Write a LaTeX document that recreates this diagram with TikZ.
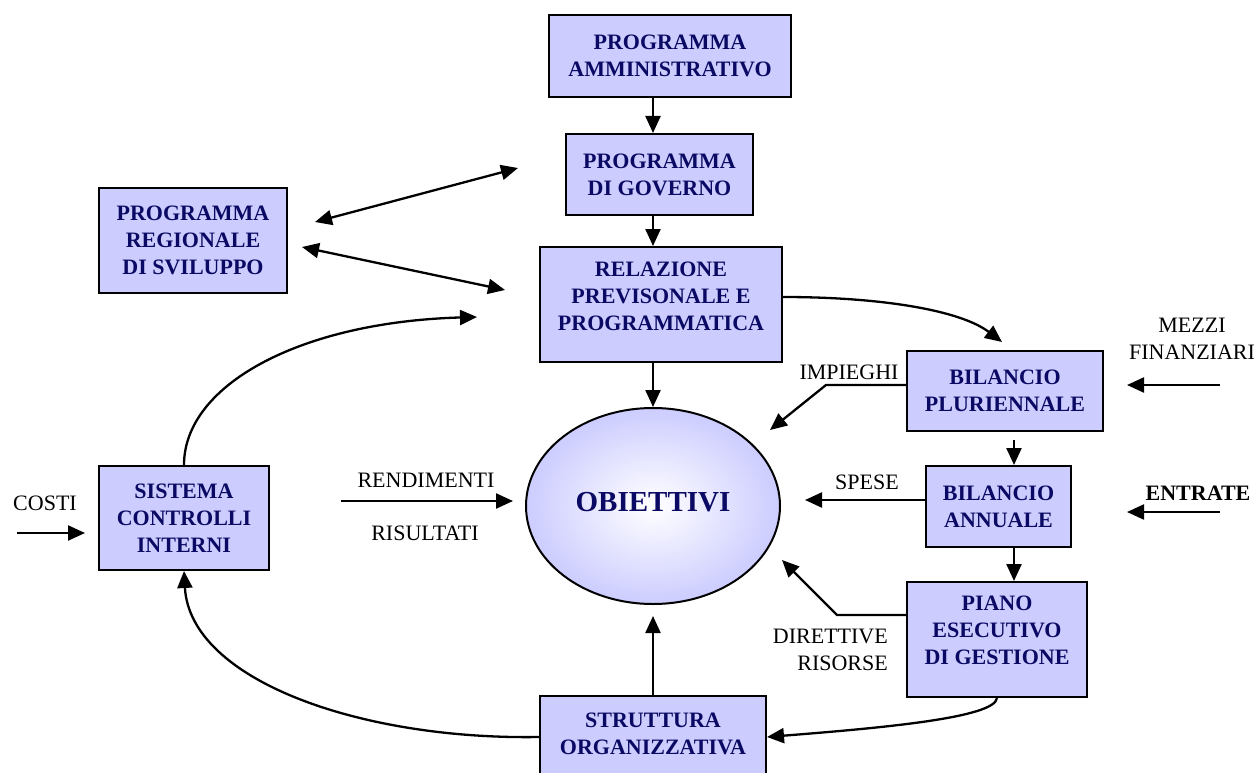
\documentclass[tikz,border=0pt]{standalone}
\usepackage{fontspec}
\setmainfont{Liberation Serif}
\usetikzlibrary{arrows.meta,shapes.geometric}
\definecolor{boxfill}{RGB}{204,204,255}
\definecolor{navytext}{RGB}{10,10,100}
\tikzset{
  box/.style={draw=black, line width=2pt, fill=boxfill, inner sep=0pt, text=navytext,
    font=\fontsize{22}{27}\selectfont\bfseries, align=center},
  boxtext/.style={inner sep=0pt, text=navytext, font=\fontsize{22}{27}\selectfont\bfseries, align=center},
  lab/.style={inner sep=0pt, text=black, font=\fontsize{22}{27}\selectfont, align=center},
  arr/.style={line width=2.3pt, -{Triangle[length=17pt,width=15pt]}},
  darr/.style={line width=2.3pt, {Triangle[length=17pt,width=15pt]}-{Triangle[length=17pt,width=15pt]}},
}
\begin{document}
\begin{tikzpicture}[x=1pt,y=-1pt]
\useasboundingbox (0,0) rectangle (1258,773);
% boxes
\node[box, minimum width=242pt, minimum height=82pt] (amm) at (670,56) {PROGRAMMA\\AMMINISTRATIVO};
\node[box, minimum width=187pt, minimum height=81pt] (gov) at (659.5,174.5) {PROGRAMMA\\DI GOVERNO};
\node[box, minimum width=242pt, minimum height=115pt] (rel) at (661,304.5) {};
\node[boxtext] (reltxt) at (661,296) {RELAZIONE\\PREVISONALE E\\PROGRAMMATICA};
\node[box, minimum width=188pt, minimum height=105pt] (prs) at (193,240.5) {PROGRAMMA\\REGIONALE\\DI SVILUPPO};
\node[box, minimum width=170pt, minimum height=104pt] (sci) at (184,518) {SISTEMA\\CONTROLLI\\INTERNI};
\node[box, minimum width=196pt, minimum height=80pt] (bp) at (1005,391) {BILANCIO\\PLURIENNALE};
\node[box, minimum width=145pt, minimum height=81pt] (ba) at (998.5,506.5) {BILANCIO\\ANNUALE};
\node[box, minimum width=180pt, minimum height=115pt] (pia) at (997,639.5) {};
\node[boxtext] (piatxt) at (997,630) {PIANO\\ESECUTIVO\\DI GESTIONE};
\node[box, minimum width=226pt, minimum height=110pt] (str) at (653,751) {};
\node[boxtext] (strtxt) at (653,734) {STRUTTURA\\ORGANIZZATIVA};
% ellipse
\node[ellipse, draw=black, line width=2pt, minimum width=254pt, minimum height=196pt,
  shading=radial, inner color=white, outer color=boxfill, inner sep=0pt] (obj) at (653,506) {};
\node[boxtext, font=\fontsize{29}{33}\selectfont\bfseries] (objtxt) at (653,502) {OBIETTIVI};
% coordinates
\coordinate (colx) at (1014,0);
\coordinate (d1a) at (315,222);
\coordinate (d1b) at (518,168);
\coordinate (d2a) at (302,247);
\coordinate (d2b) at (505,290);
\coordinate (c1) at (477,317);
\coordinate (c2) at (1002,342);
\coordinate (imp) at (770,430);
\coordinate (spe) at (805,500);
\coordinate (dir) at (782,560);
\coordinate (ren1) at (341,501);
\coordinate (ren2) at (513,501);
\coordinate (mz1) at (1220,385);
\coordinate (mz2) at (1127,385);
\coordinate (en1) at (1220,512);
\coordinate (en2) at (1127,512);
\coordinate (co1) at (17,533);
\coordinate (co2) at (85,533);
% vertical arrows
\draw[arr] (amm.south -| obj.north) -- (gov.north -| obj.north);
\draw[arr] (gov.south -| obj.north) -- (rel.north -| obj.north);
\draw[arr] (rel.south -| obj.north) -- (obj.north);
\draw[arr] (str.north -| obj.north) -- ([yshift=-11pt]obj.south);
\draw[arr] ([yshift=-8pt]bp.south -| colx) -- (ba.north -| colx);
\draw[arr] (ba.south -| colx) -- (pia.north -| colx);
% double arrows
\draw[darr] (d1a) -- (d1b);
\draw[darr] (d2a) -- (d2b);
% curves
\draw[arr] (sci.north) .. controls (184,385) and (300,322) .. (c1);
\draw[arr] ([yshift=7.5pt]rel.east) .. controls (880,297) and (960,310) .. (c2);
\draw[arr] (pia.south) .. controls (995,718) and (880,728) .. ([yshift=14pt]str.east);
\draw[arr] ([yshift=14pt]str.west) .. controls (360,740) and (190,680) .. (sci.south);
% side arrows
\draw[arr] ([yshift=6pt]bp.west) -- ++(-80,0) -- (imp);
\draw[arr] ([yshift=6.5pt]ba.west) -- (spe);
\draw[arr] ([yshift=24.5pt]pia.west) -- ++(-69,0) -- (dir);
\draw[arr] (ren1) -- (ren2);
\draw[arr] (mz1) -- (mz2);
\draw[arr] (en1) -- (en2);
\draw[arr] (co1) -- (co2);
% labels
\node[lab] (lcosti) at (45,503) {COSTI};
\node[lab] (lrend) at (426,480) {RENDIMENTI};
\node[lab] (lris) at (425,533) {RISULTATI};
\node[lab] (limp) at (849,372) {IMPIEGHI};
\node[lab] (lspe) at (867,482) {SPESE};
\node[lab] (lmez) at (1192,339) {MEZZI\\FINANZIARI};
\node[lab, font=\fontsize{22}{27}\selectfont\bfseries] (lent) at (1198,493) {ENTRATE};
\node[lab, align=right, anchor=east] (ldir) at (888,650) {DIRETTIVE\\RISORSE};
\end{tikzpicture}
\end{document}
